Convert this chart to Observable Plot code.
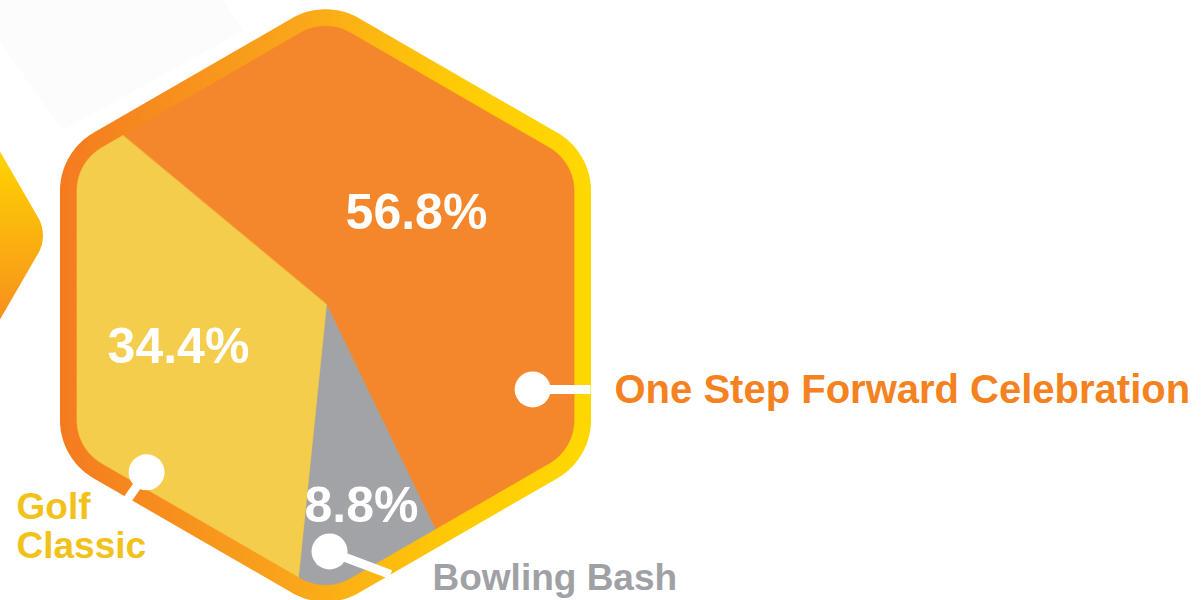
<!DOCTYPE html>
<html><head><meta charset="utf-8">
<script src="https://cdn.jsdelivr.net/npm/d3@7"></script>
<script src="https://cdn.jsdelivr.net/npm/@observablehq/plot@0.6"></script>
<style>html,body{margin:0;padding:0;background:#fff;}#chart{width:1203px;height:600px;overflow:hidden}</style>
</head><body><div id="chart"></div>
<script>
// ---- data ----
const categories = ["One Step Forward Celebration", "Bowling Bash", "Golf Classic"];
const shares = [56.8, 8.8, 34.4];
const valueLabels = ["56.8%", "8.8%", "34.4%"];
const displayNames = ["One Step Forward Celebration", "Bowling Bash", "Golf\nClassic"];
const sliceColors = ["#F4862B", "#A2A3A7", "#F4CD4C"];
const labelColors = ["#F58220", "#A0A1A5", "#F2C21A"];

// ---- layout (styling / positions, not data) ----
const W = 1203, H = 600;
const layout = {
  pie: {cx: 326, cy: 304, startDeg: -50.3},
  hex: {cx: 325, cy: 305, outerR: 306.6, outerCorner: 67, innerR: 287, innerCorner: 50},
  chevron: {cx: -102, cy: 235, R: 150, corner: 36},
  valueText: [{x: 416, y: 228}, {x: 361, y: 521}, {x: 178, y: 362}],
  dots: [{deg: 112.4, r: 223}, {deg: 179.3, r: 247}, {deg: 227, r: 246}],
  leaderEnd: [{x: 590, y: 389}, {x: 390, y: 574}, {x: 127, y: 499}],
  names: [{x: 614, y: 402, size: 40, anchor: "start"}, {x: 432, y: 589, size: 37, anchor: "start"}, {x: 16, y: 557, size: 37, anchor: "start"}],
  faint: [[0,0],[222,0],[243,30],[62,130],[0,42]]
};
const FONT = "Liberation Sans, Arial, sans-serif";

function roundedPoly(cx, cy, R, r, rot, n = 6, steps = 30) {
  const pts = [];
  const half = Math.PI / 2 - Math.PI / n;
  const Rc = R - r / Math.sin(half);
  for (let i = 0; i < n; i++) {
    const phi = rot + i * 2 * Math.PI / n;
    const ccx = cx + Rc * Math.cos(phi), ccy = cy + Rc * Math.sin(phi);
    for (let k = 0; k <= steps; k++) {
      const psi = phi - Math.PI / n + (2 * Math.PI / n) * k / steps;
      pts.push([ccx + r * Math.cos(psi), ccy + r * Math.sin(psi)]);
    }
  }
  return pts;
}
const H_ = layout.hex;
const outerHex = roundedPoly(H_.cx, H_.cy, H_.outerR, H_.outerCorner, -Math.PI / 2);
const innerHex = roundedPoly(H_.cx, H_.cy, H_.innerR, H_.innerCorner, -Math.PI / 2);
const C = layout.chevron;
const chevron = roundedPoly(C.cx, C.cy, C.R, C.corner, 0);

function rayHit(cx, cy, a, poly) {
  const dx = Math.sin(a), dy = -Math.cos(a);
  let best = Infinity;
  for (let i = 0; i < poly.length; i++) {
    const [ax, ay] = poly[i], [bx, by] = poly[(i + 1) % poly.length];
    const ex = bx - ax, ey = by - ay;
    const den = dx * ey - dy * ex;
    if (Math.abs(den) < 1e-12) continue;
    const qx = ax - cx, qy = ay - cy;
    const t = (qx * ey - qy * ex) / den;
    const s = (qx * dy - qy * dx) / den;
    if (t > 0 && s >= -1e-9 && s <= 1 + 1e-9 && t < best) best = t;
  }
  return [cx + best * dx, cy + best * dy];
}

const P = layout.pie;
const start = P.startDeg * Math.PI / 180;
const arcs = d3.pie().sort(null).startAngle(start).endAngle(start + 2 * Math.PI)(shares);
const sliceData = [];
arcs.forEach((arc, i) => {
  const name = categories[i];
  sliceData.push({name, x: P.cx, y: P.cy});
  const n = Math.max(2, Math.ceil((arc.endAngle - arc.startAngle) / (Math.PI / 720)));
  for (let k = 0; k <= n; k++) {
    const a = arc.startAngle + (arc.endAngle - arc.startAngle) * k / n;
    const [x, y] = rayHit(P.cx, P.cy, a, innerHex);
    sliceData.push({name, x, y});
  }
});

const toRows = (pts) => pts.map(([x, y]) => ({x, y}));
const valueRows = categories.map((c, i) => ({name: c, text: valueLabels[i], ...layout.valueText[i]}));
const dotRows = categories.map((c, i) => {
  const a = layout.dots[i].deg * Math.PI / 180;
  return {name: c, x: P.cx + layout.dots[i].r * Math.sin(a), y: P.cy - layout.dots[i].r * Math.cos(a),
          x2: layout.leaderEnd[i].x, y2: layout.leaderEnd[i].y};
});

const defsMark = () => {
  const defs = d3.create("svg:defs");
  const g1 = defs.append("linearGradient").attr("id", "borderGrad")
    .attr("x1", 0).attr("x2", 1).attr("y1", 0).attr("y2", 0);
  [["0%", "#F47B20"], ["45%", "#FAA61A"], ["75%", "#FFCB05"], ["100%", "#FFD800"]]
    .forEach(([o, c]) => g1.append("stop").attr("offset", o).attr("stop-color", c));
  const g2 = defs.append("linearGradient").attr("id", "chevGrad").attr("gradientUnits", "userSpaceOnUse")
    .attr("x1", 0).attr("x2", 0).attr("y1", 150).attr("y2", 320);
  [["0%", "#FFD400"], ["100%", "#F7901E"]]
    .forEach(([o, c]) => g2.append("stop").attr("offset", o).attr("stop-color", c));
  return defs.node();
};

const marks = [
  defsMark,
  Plot.line(toRows(layout.faint), {x: "x", y: "y", fill: "#FCFCFC", stroke: null, curve: "linear-closed"}),
  Plot.line(toRows(chevron), {x: "x", y: "y", fill: "url(#chevGrad)", stroke: null, curve: "linear-closed"}),
  Plot.line(toRows(outerHex), {x: "x", y: "y", fill: "url(#borderGrad)", stroke: null, curve: "linear-closed"}),
  Plot.line(sliceData, {x: "x", y: "y", z: "name", fill: "name", stroke: "name", strokeWidth: 0.6, curve: "linear-closed"}),
  Plot.text(valueRows, {x: "x", y: "y", text: "text", fill: "white", fontSize: 50, fontWeight: "bold",
    fontFamily: FONT, textAnchor: "middle", lineAnchor: "bottom"}),
  Plot.link(dotRows, {x1: "x", y1: "y", x2: "x2", y2: "y2", stroke: "white", strokeWidth: 9}),
  Plot.dot(dotRows, {x: "x", y: "y", r: 18, fill: "white", stroke: null}),
  ...categories.map((c, i) => Plot.text([{text: displayNames[i], ...layout.names[i]}], {
    x: "x", y: "y", text: "text", fill: labelColors[i], fontSize: layout.names[i].size, fontWeight: "bold",
    fontFamily: FONT, textAnchor: layout.names[i].anchor, lineAnchor: "bottom", lineHeight: 1.03
  }))
];

const plot = Plot.plot({
  width: W, height: H,
  margin: 0,
  x: {domain: [0, W], range: [0, W], axis: null},
  y: {domain: [0, H], range: [0, H], axis: null},
  color: {domain: categories, range: sliceColors},
  style: {background: "white"},
  marks
});
document.getElementById("chart").appendChild(plot);
</script>
</body></html>
